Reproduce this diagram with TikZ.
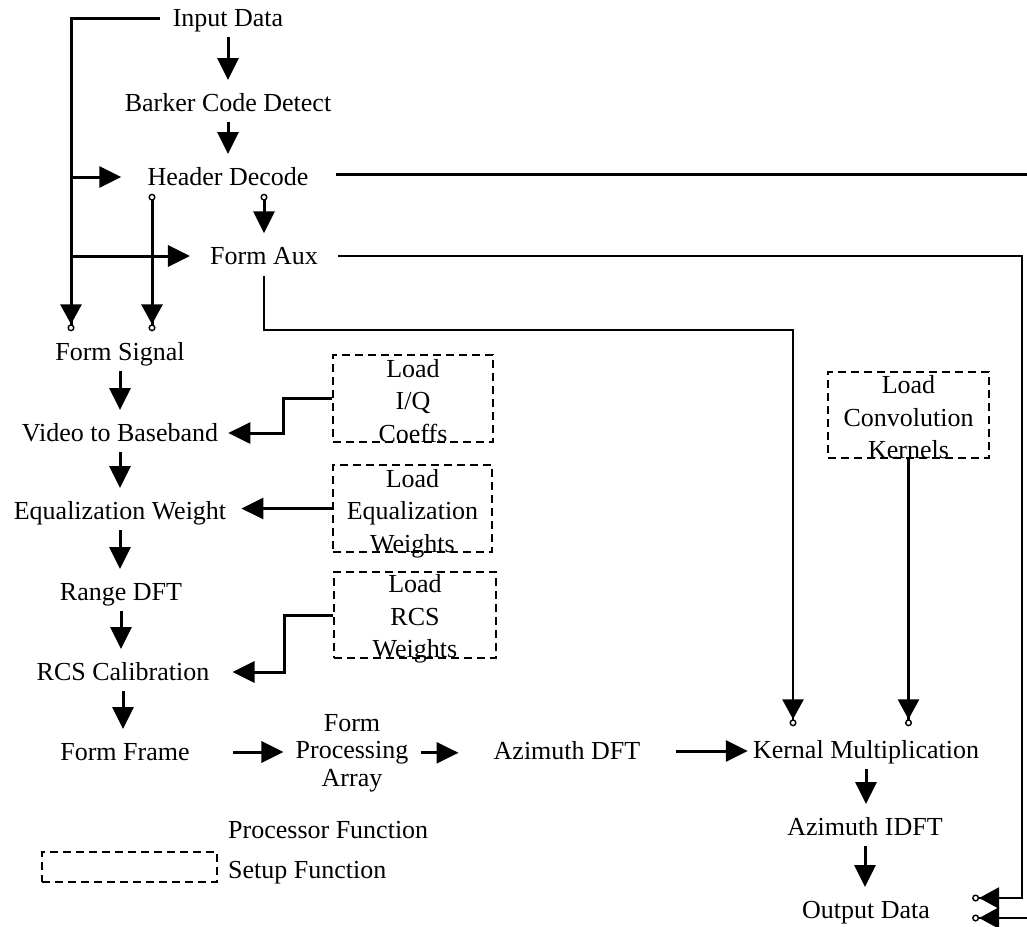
\documentclass[tikz,border=0pt]{standalone}
\usepackage{fontspec}
\setmainfont{Liberation Serif}
\usetikzlibrary{arrows.meta}
\begin{document}
\begin{tikzpicture}[x=1pt,y=-1pt,
  every node/.style={font=\fontsize{26}{32.5}\selectfont, inner sep=0pt},
  proc/.style={text height=17pt, text depth=0pt},
  multi/.style={align=center, font=\fontsize{26}{27.5}\selectfont},
  boxtxt/.style={align=center, font=\fontsize{26}{32.5}\selectfont},
  setupbox/.style={draw, line width=2.6pt, dash pattern=on 8pt off 5pt},
  ln/.style={line width=3pt},
  lnthin/.style={line width=2.6pt},
  arr/.style={ln, -{Triangle[width=21pt,length=22pt]}},
  arrc/.style={ln, -{Triangle[width=21pt,length=20pt]Circle[open,length=7pt,line width=1.4pt]}},
  carr/.style={ln, {Circle[open,length=7pt,line width=1.4pt]}-{Triangle[width=21pt,length=22pt]}},
  carrc/.style={ln, {Circle[open,length=7pt,line width=1.4pt]}-{Triangle[width=21pt,length=20pt]Circle[open,length=7pt,line width=1.4pt]}},
  varr/.style={arr, shorten <=19pt, shorten >=23pt}]
\useasboundingbox (0,0) rectangle (1027,926);

% processor functions
\node[proc] (inp) at (228,18) {Input Data};
\node[proc] (bcd) at (228,103) {Barker Code Detect};
\node[proc] (hd) at (228,177) {Header Decode};
\node[proc] (fa) at (264,256) {Form Aux};
\node[proc] (fs) at (120,352) {Form Signal};
\node[proc] (vb) at (120,433) {Video to Baseband};
\node[proc] (eq) at (120,511) {Equalization Weight};
\node[proc] (rd) at (121,592) {Range DFT};
\node[proc] (rcs) at (123,672) {RCS Calibration};
\node[proc] (ff) at (125,752) {Form Frame};
\node[multi] (fpa) at (352,752.8) {Form\\Processing\\Array};
\node[proc] (azd) at (567,751) {Azimuth DFT};
\node[proc] (km) at (866,750) {Kernal Multiplication};
\node[proc] (azi) at (865,827) {Azimuth IDFT};
\node[proc] (out) at (866,910) {Output Data};

% setup functions
\node[setupbox, minimum width=160pt, minimum height=87pt] (iq) at (413,398.5) {};
\node[boxtxt] (iqt) at (413,401) {Load\\I/Q\\Coeffs};
\node[setupbox, minimum width=159pt, minimum height=87pt] (eqw) at (412.5,508.5) {};
\node[boxtxt] (eqwt) at (412.5,513.5) {Load\\Equalization\\Weights};
\node[setupbox, minimum width=162pt, minimum height=86pt] (rcsw) at (415,615) {};
\node[boxtxt] (rcswt) at (415,619) {Load\\RCS\\Weights};
\node[setupbox, minimum width=161pt, minimum height=86pt] (conv) at (908.5,415) {};
\node[boxtxt] (convt) at (908.5,417.5) {Load\\Convolution\\Kernels};

% legend
\node[setupbox, minimum width=175pt, minimum height=30pt] (leg) at (129.5,867) {};
\node[proc, anchor=west] (lp) at (228,830) {Processor Function};
\node[proc, anchor=west] (ls) at (228,870) {Setup Function};

% helper coordinates
\coordinate (bus) at (71,0);
\coordinate (hdx) at (152,0);
\coordinate (hdR) at (1027,174);
\coordinate (rx) at (1022,0);
\coordinate (o1) at (0,898);
\coordinate (o2) at (1027,918);
\coordinate (kj) at (793,330);
\coordinate (iqj) at (283,398.5);
\coordinate (rj) at (284,615);

% left bus from Input Data
\draw[arrc, shorten <=13pt, shorten >=12pt] (inp.west) -| (bus |- fs.north);
\draw[arr, shorten >=26pt] (bus |- hd.west) -- (hd.west);
\draw[arr, shorten >=20pt] (bus |- fa.west) -- (fa.west);

% header decode outputs
\draw[carrc, shorten <=8pt, shorten >=12pt] (hdx |- hd.south) -- (hdx |- fs.north);
\draw[carr, shorten <=8pt, shorten >=14pt] (hd.south -| fa.north) -- (fa.north);
\draw[ln, shorten <=27pt] (hd.east |- hdR) -- (hdR);

% form aux outputs
\draw[arrc, lnthin, shorten <=20pt, shorten >=42pt] (fa.east) -- (fa.east -| rx) |- (out.east |- o1);
\draw[arrc, lnthin, shorten >=42pt] (o2) -- (out.east |- o2);
\draw[arrc, lnthin, shorten <=11pt, shorten >=15pt] (fa.south) |- (kj) -- (kj |- km.north);
\draw[arrc, shorten >=15pt] (conv.south) -- (conv.south |- km.north);

% vertical flow
\foreach \a/\b in {inp/bcd, bcd/hd, fs/vb, vb/eq, eq/rd, rd/rcs, rcs/ff, km/azi, azi/out}
  \draw[varr] (\a.center) -- (\a.center |- \b.center);

% bottom horizontal flow
\draw[arr, shorten <=43pt, shorten >=12pt] (ff.east) -- (ff.east -| fpa.west);
\draw[arr, shorten <=12pt, shorten >=35pt] (fpa.east) -- (fpa.east -| azd.west);
\draw[arr, shorten <=35pt, shorten >=5pt] (azd.east) -- (azd.east -| km.west);

% setup connectors
\draw[arr, shorten >=10pt] (iq.west) -- (iqj) |- (vb.east);
\draw[arr, shorten >=15pt] (eqw.west) -- (eqw.west -| eq.east);
\draw[arr, shorten >=23pt] (rcsw.west) -- (rj) |- (rcs.east);
\end{tikzpicture}
\end{document}
